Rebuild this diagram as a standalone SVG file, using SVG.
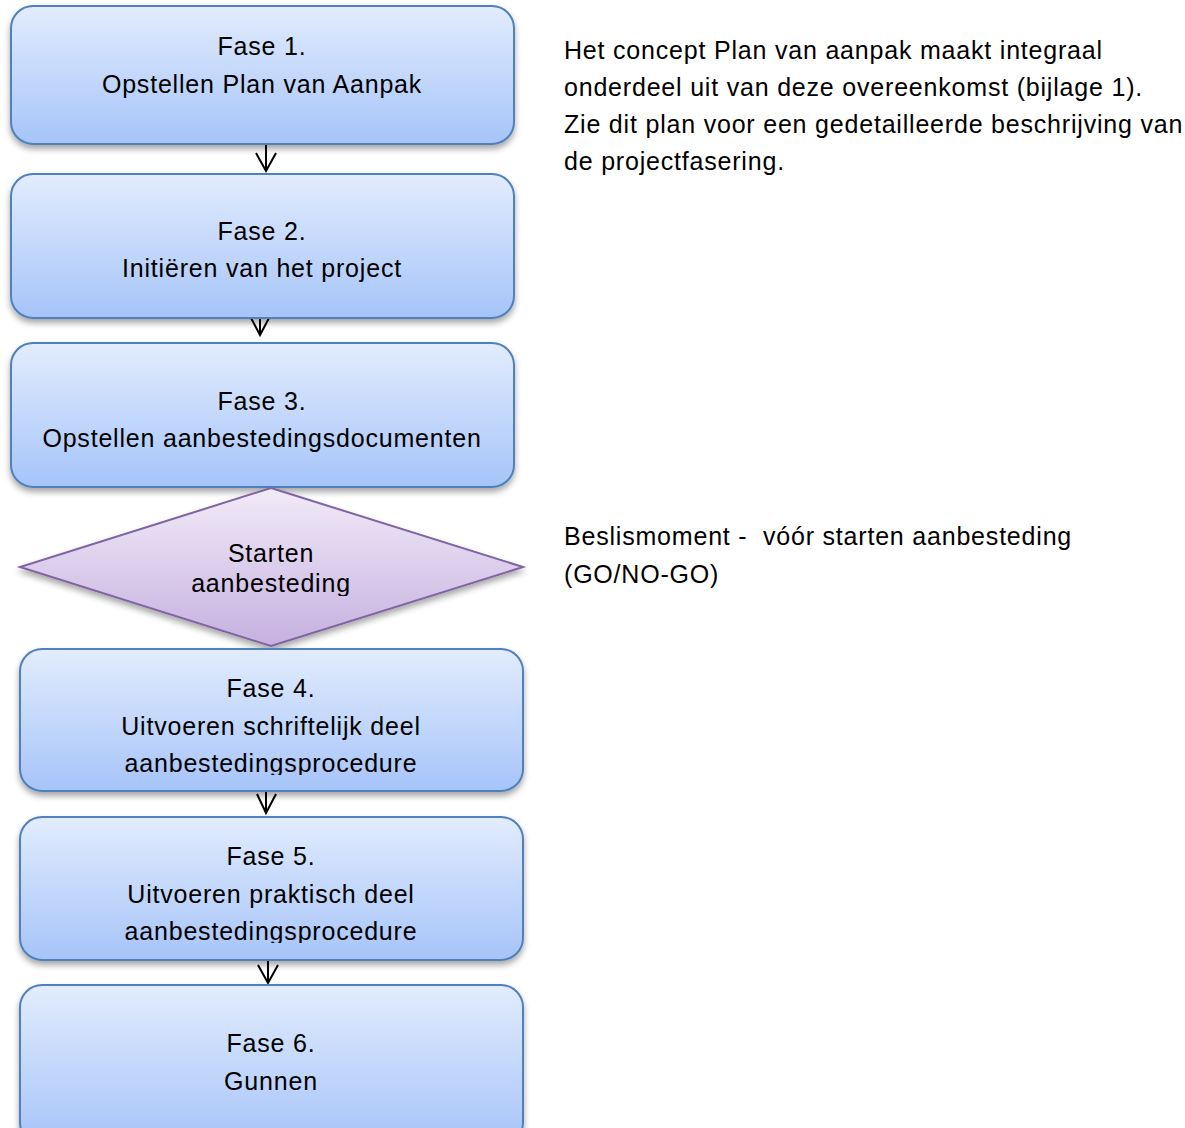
<svg xmlns="http://www.w3.org/2000/svg" width="1185" height="1128" viewBox="0 0 1185 1128">
<defs>
<linearGradient id="gBox" x1="0" y1="0" x2="0" y2="1">
<stop offset="0" stop-color="#e2ecfd"/>
<stop offset="1" stop-color="#a6c4f9"/>
</linearGradient>
<linearGradient id="gDia" x1="0" y1="0" x2="0" y2="1">
<stop offset="0" stop-color="#f1ebf8"/>
<stop offset="1" stop-color="#c6b0e0"/>
</linearGradient>
<filter id="sh" x="-5%" y="-10%" width="110%" height="130%">
<feDropShadow dx="0" dy="4" stdDeviation="3" flood-color="#000" flood-opacity="0.35"/>
</filter>
<clipPath id="cDia"><rect x="0" y="480" width="540" height="116"/></clipPath>
<clipPath id="c4"><rect x="0" y="640" width="540" height="135"/></clipPath>
<clipPath id="c5"><rect x="0" y="810" width="540" height="133"/></clipPath>
</defs>
<style>
.box{fill:url(#gBox);stroke:#4f81bd;stroke-width:2;filter:url(#sh)}
.dia{fill:url(#gDia);stroke:#8064a2;stroke-width:2;filter:url(#sh)}
text{font-family:"Liberation Sans",Arial,sans-serif;font-size:25px;letter-spacing:0.8px;fill:#000}
.c{text-anchor:middle}
.con{stroke:#000;stroke-width:2;fill:none;stroke-linejoin:miter}
</style>
<g id="connectors">
<path class="con" d="M266 145 V171 M256 153 L266 171 L276 153"/>
<path class="con" d="M260 319 V335 M251 318 L260 335 L269 318"/>
<path class="con" d="M266 792 V813 M257 794 L266 813 L276 794"/>
<path class="con" d="M268 961 V983 M258 965 L268 983 L278 965"/>
</g>
<g id="fase1">
<rect class="box" x="11" y="6" width="503" height="138" rx="22"/>
<text class="c" x="262" y="55">Fase 1.</text>
<text class="c" x="262" y="93">Opstellen Plan van Aanpak</text>
</g>
<g id="fase2">
<rect class="box" x="11" y="174" width="503" height="144" rx="22"/>
<text class="c" x="262" y="240">Fase 2.</text>
<text class="c" x="262" y="277">Initiëren van het project</text>
</g>
<g id="fase3">
<rect class="box" x="11" y="343" width="503" height="144" rx="22"/>
<text class="c" x="262" y="410">Fase 3.</text>
<text class="c" x="262" y="447">Opstellen aanbestedingsdocumenten</text>
</g>
<g id="beslis">
<polygon class="dia" points="271,488 523,567 271,646 20,567"/>
<g clip-path="url(#cDia)">
<text class="c" x="271" y="562">Starten</text>
<text class="c" x="271" y="592">aanbesteding</text>
</g>
</g>
<g id="fase4">
<rect class="box" x="20" y="649" width="503" height="142" rx="22"/>
<g clip-path="url(#c4)">
<text class="c" x="271" y="697">Fase 4.</text>
<text class="c" x="271" y="735">Uitvoeren schriftelijk deel</text>
<text class="c" x="271" y="772">aanbestedingsprocedure</text>
</g>
</g>
<g id="fase5">
<rect class="box" x="20" y="817" width="503" height="143" rx="22"/>
<g clip-path="url(#c5)">
<text class="c" x="271" y="865">Fase 5.</text>
<text class="c" x="271" y="903">Uitvoeren praktisch deel</text>
<text class="c" x="271" y="940">aanbestedingsprocedure</text>
</g>
</g>
<g id="fase6">
<rect class="box" x="20" y="985" width="503" height="160" rx="22"/>
<text class="c" x="271" y="1052">Fase 6.</text>
<text class="c" x="271" y="1090">Gunnen</text>
</g>
<g id="notes">
<text x="564" y="59">Het concept Plan van aanpak maakt integraal</text>
<text x="564" y="96">onderdeel uit van deze overeenkomst (bijlage 1).</text>
<text x="564" y="133">Zie dit plan voor een gedetailleerde beschrijving van</text>
<text x="564" y="170">de projectfasering.</text>
<text x="564" y="545" xml:space="preserve">Beslismoment -  vóór starten aanbesteding</text>
<text x="564" y="583">(GO/NO-GO)</text>
</g>
</svg>
